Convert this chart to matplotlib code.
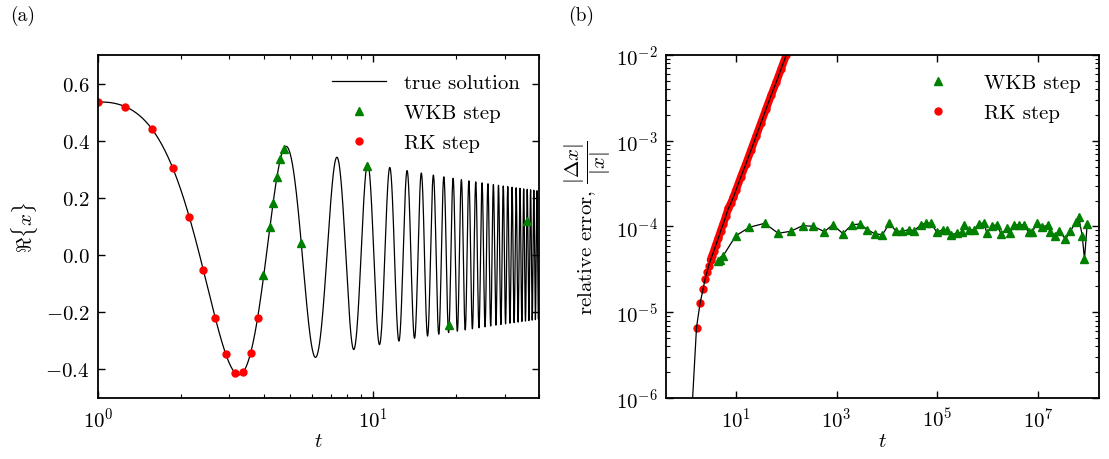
import numpy as np
import matplotlib
matplotlib.use('Agg')
import matplotlib.pyplot as plt
from matplotlib.ticker import FuncFormatter, LogLocator, NullLocator

plt.rcParams['font.family'] = 'serif'
plt.rcParams['font.serif'] = ['cmr10']
plt.rcParams['mathtext.fontset'] = 'cm'
plt.rcParams['axes.formatter.use_mathtext'] = True
plt.rcParams['axes.unicode_minus'] = False
plt.rcParams['font.size'] = 15

# ---- (a) Airy equation x'' + t x = 0, true solution Re{x} = Ai(-t) ----
t_start, t_end = 1.0, 40.0
x0, dx0 = 0.5355608833, 0.0101605671   # Ai(-1), -Ai'(-1)

# RK steps (red dots)
rk_t = [1.0, 1.25, 1.57, 1.875, 2.14, 2.415, 2.67, 2.91, 3.146, 3.37, 3.594, 3.81]
rk_x = [0.535, 0.519, 0.441, 0.305, 0.132, -0.052, -0.22, -0.346, -0.412, -0.41, -0.342, -0.221]

# WKB steps (green triangles)
wkb_t = [3.99, 4.21, 4.32, 4.46, 4.59, 4.75, 5.45, 9.46, 18.85, 36.1]
wkb_x = [-0.069, 0.097, 0.183, 0.273, 0.336, 0.371, 0.042, 0.31, -0.244, 0.12]

# ---- (b) relative error, log10 values ----
rk_logt = [0.10, 0.219, 0.29, 0.35, 0.39, 0.43, 0.463, 0.497, 0.53, 0.56, 0.60, 0.65,
           0.70, 0.75, 0.80, 0.85, 0.90, 0.95, 1.00, 1.10, 1.20, 1.30, 1.40, 1.50,
           1.60, 1.70, 1.80, 1.90, 2.00, 2.10]
rk_logerr = [-6.45, -5.178, -4.894, -4.728, -4.611, -4.526, -4.456, -4.39, -4.34, -4.29,
             -4.22, -4.14, -4.05, -3.97, -3.88, -3.79, -3.73, -3.66, -3.58, -3.42, -3.27,
             -3.11, -2.95, -2.79, -2.63, -2.47, -2.32, -2.16, -2.00, -1.84]

wkb_logt = [0.64, 0.68, 0.75, 1.0, 1.27, 1.57, 1.84, 2.087, 2.326, 2.537, 2.756, 2.922,
            3.125, 3.30, 3.465, 3.611, 3.763, 3.909, 4.048, 4.181, 4.306, 4.426, 4.539,
            4.672, 4.777, 4.870, 4.99, 5.101, 5.189, 5.274, 5.388, 5.487, 5.519, 5.618,
            5.718, 5.817, 5.917, 5.984, 6.083, 6.183, 6.262, 6.381, 6.447, 6.513, 6.612,
            6.712, 6.811, 6.878, 6.978, 7.077, 7.189, 7.243, 7.342, 7.408, 7.541, 7.640,
            7.74, 7.805, 7.873, 7.918, 7.972]
wkb_logerr = [-4.40, -4.39, -4.34, -4.107, -4.009, -3.963, -4.079, -4.056, -3.99, -3.998,
              -4.06, -3.98, -4.083, -3.98, -3.971, -4.037, -4.087, -4.095, -3.963, -4.056,
              -4.056, -4.037, -4.049, -3.979, -3.959, -3.963, -4.068, -4.037, -4.037,
              -4.095, -4.079, -4.068, -3.983, -4.037, -4.041, -3.971, -3.959, -4.079,
              -3.99, -3.983, -4.087, -4.021, -4.079, -3.979, -3.983, -3.979, -4.068,
              -4.068, -3.959, -4.009, -3.983, -4.068, -4.107, -4.049, -4.146, -4.056,
              -3.951, -3.893, -4.107, -4.378, -3.971]


def airy_solution(t0, t1, y0, v0, h=0.001):
    # integrate x'' = -t x with classic RK4
    n = int(round((t1 - t0) / h))
    ts = t0 + h * np.arange(n + 1)
    xs = np.empty(n + 1)
    y, v = y0, v0
    xs[0] = y
    for i in range(n):
        t = ts[i]
        k1y, k1v = v, -t * y
        k2y, k2v = v + 0.5 * h * k1v, -(t + 0.5 * h) * (y + 0.5 * h * k1y)
        k3y, k3v = v + 0.5 * h * k2v, -(t + 0.5 * h) * (y + 0.5 * h * k2y)
        k4y, k4v = v + h * k3v, -(t + h) * (y + h * k3y)
        y += h / 6 * (k1y + 2 * k2y + 2 * k3y + k4y)
        v += h / 6 * (k1v + 2 * k2v + 2 * k3v + k4v)
        xs[i + 1] = y
    return ts, xs


t_true, x_true = airy_solution(t_start, t_end, x0, dx0)

fig = plt.figure(figsize=(11.09, 4.6), dpi=100)
ax1 = fig.add_axes([0.0884, 0.1326, 0.3977, 0.7457])
ax2 = fig.add_axes([0.6005, 0.1326, 0.3904, 0.7457])

for ax in (ax1, ax2):
    ax.tick_params(which='both', direction='in', top=True, right=True)
    ax.tick_params(which='major', length=5, width=1, pad=6)
    ax.tick_params(which='minor', length=3, width=0.8)
    for s in ax.spines.values():
        s.set_linewidth(1.3)

# (a)
ax1.plot(t_true, x_true, color='k', lw=0.9, label='true solution')
ax1.plot(wkb_t, wkb_x, '^', color='green', ms=5.5, ls='none', label='WKB step')
ax1.plot(rk_t, rk_x, 'o', color='red', ms=5, ls='none', label='RK step')
ax1.set_xscale('log')
ax1.set_xlim(1, 40)
ax1.set_ylim(-0.5, 0.7)
ax1.set_yticks([-0.4, -0.2, 0.0, 0.2, 0.4, 0.6])
ax1.yaxis.set_major_formatter(FuncFormatter(lambda v, p: '$%.1f$' % v))
ax1.set_xlabel('$t$', labelpad=1)
ax1.set_ylabel(r'$\Re\{x\}$', labelpad=4)
ax1.legend(loc='upper right', frameon=False, handlelength=2.6, numpoints=1,
           borderaxespad=0.5, labelspacing=0.55, handletextpad=0.9)

# (b)
rk_tb = 10 ** np.array(rk_logt)
rk_eb = 10 ** np.array(rk_logerr)
wkb_tb = 10 ** np.array(wkb_logt)
wkb_eb = 10 ** np.array(wkb_logerr)

ax2.plot(rk_tb[7:], rk_eb[7:], color='red', lw=5.5, solid_capstyle='round', zorder=2)
ax2.plot(rk_tb[1:], rk_eb[1:], 'o', color='red', ms=5, ls='none', zorder=2)
ax2.plot(wkb_tb, wkb_eb, '^', color='green', ms=6, ls='none', zorder=2, label='WKB step')
ax2.plot([], [], 'o', color='red', ms=5, ls='none', label='RK step')
ax2.plot(rk_tb, rk_eb, color='k', lw=0.9, zorder=3)
ax2.plot(wkb_tb, wkb_eb, color='k', lw=0.9, zorder=1)
ax2.set_xscale('log')
ax2.set_yscale('log')
ax2.set_xlim(0.41, 1.6e8)
ax2.set_ylim(1e-6, 1e-2)
ax2.set_xticks([1e1, 1e3, 1e5, 1e7])
ax2.xaxis.set_minor_locator(NullLocator())
ax2.yaxis.set_major_locator(LogLocator(base=10, numticks=10))
ax2.yaxis.set_minor_locator(LogLocator(base=10, subs=np.arange(2, 10), numticks=10))
ax2.set_xlabel('$t$', labelpad=1)
ax2.set_ylabel(r'relative error, $\dfrac{|\Delta x|}{|x|}$', labelpad=2)
ax2.legend(loc='upper right', frameon=False, numpoints=1, borderaxespad=0.5,
           labelspacing=0.55, handletextpad=1.2)

fig.text(0.009, 0.955, '(a)', fontsize=14)
fig.text(0.512, 0.955, '(b)', fontsize=14)

fig.savefig('out.png', dpi=100)
